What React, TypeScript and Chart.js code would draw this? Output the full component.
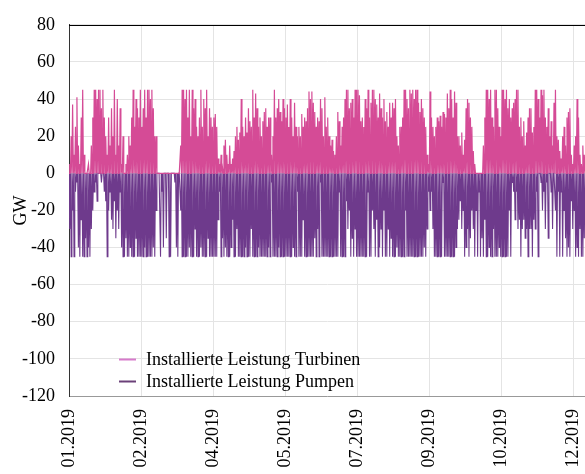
import React, { useEffect, useRef } from 'react';
import { Chart, registerables } from 'chart.js';

Chart.register(...registerables);

// x-axis: days since 01.01.2019, ticks every 50 days
const xTickLabels = ['01.2019', '02.2019', '04.2019', '05.2019', '07.2019', '09.2019', '10.2019', '12.2019'];
const xTickStepDays = 50;
const xMaxDays = 358;

const yMin = -120;
const yMax = 80;
const yStep = 20;
const yTitle = 'GW';

const seriesLabels = ['Installierte Leistung Turbinen', 'Installierte Leistung Pumpen'];
const seriesColors = ['#d54b96', '#6e3a8c'];
const legendColors = ['#d77acb', '#6b4079'];

// daily peak generation of turbines (GW), day 0 = 01.01.2019
const turbinenDaily = [
  5, 20, 37, 10, 25, 41, 15, 5, 30, 45,
  10, 0, 0, 5, 0, 15, 30, 45, 45, 40,
  45, 45, 35, 45, 30, 20, 10, 30, 15, 35,
  20, 45, 10, 40, 15, 35, 5, 20, 0, 5,
  10, 20, 15, 30, 45, 25, 40, 35, 30, 45,
  25, 35, 45, 30, 45, 45, 40, 45, 35, 20,
  20, 0, 0, 0, 0, 0, 0, 0, 0, 0,
  0, 0, 0, 0, 0, 0, 0, 15, 45, 45,
  40, 45, 30, 45, 20, 45, 35, 40, 25, 20,
  30, 45, 25, 40, 35, 45, 20, 35, 30, 25,
  30, 32, 25, 8, 5, 10, 3, 15, 18, 10,
  5, 15, 5, 8, 12, 20, 25, 18, 22, 40,
  25, 20, 30, 22, 35, 28, 25, 45, 30, 43,
  35, 25, 30, 20, 28, 33, 35, 25, 30, 30,
  10, 20, 45, 30, 35, 40, 33, 28, 40, 35,
  30, 37, 25, 40, 30, 20, 38, 25, 20, 25,
  20, 32, 25, 30, 28, 35, 44, 40, 44, 38,
  33, 25, 30, 28, 40, 35, 20, 41, 25, 30,
  20, 15, 18, 12, 10, 20, 33, 28, 15, 25,
  30, 40, 45, 45, 35, 38, 40, 30, 45, 45,
  45, 42, 28, 30, 25, 40, 35, 45, 30, 38,
  45, 45, 40, 37, 30, 43, 35, 30, 40, 28,
  33, 25, 38, 30, 38, 35, 40, 20, 15, 25,
  25, 30, 45, 45, 40, 35, 45, 43, 45, 40,
  45, 45, 38, 33, 40, 35, 30, 25, 10, 5,
  44, 30, 25, 20, 25, 30, 28, 31, 25, 33,
  32, 30, 43, 35, 45, 40, 30, 44, 38, 20,
  20, 15, 22, 10, 18, 35, 40, 38, 30, 25,
  12, 5, 0, 0, 0, 0, 0, 15, 30, 45,
  45, 40, 45, 30, 25, 45, 45, 35, 25, 20,
  45, 45, 40, 45, 35, 40, 30, 35, 38, 40,
  45, 45, 25, 30, 20, 28, 15, 22, 30, 35,
  35, 22, 25, 45, 45, 40, 30, 45, 42, 45,
  30, 25, 35, 20, 28, 15, 38, 45, 20, 18,
  12, 8, 20, 25, 15, 30, 33, 35, 10, 5,
  15, 20, 40, 30, 10, 5, 15, 10, 5,
];

// daily peak pumping load (GW, negative)
const pumpenDaily = [
  -30, -45, -20, -45, -10, -5, -40, -45, -25, -45,
  -45, -35, -45, -40, -45, -30, -20, -10, -5, -15,
  0, 0, -5, 0, -10, -15, -45, -20, -10, -25,
  -30, -15, -35, -20, -30, -10, -40, -45, -45, -35,
  -45, -45, -40, -45, -45, -45, -35, -45, -45, -45,
  -45, -45, -40, -45, -45, -45, -45, -45, -40, -45,
  -20, 0, 0, -45, -10, -40, 0, -35, 0, -45,
  -45, 0, 0, -5, -40, -45, 0, -20, -45, -45,
  -45, -45, -45, -40, -45, -45, -45, -30, -45, -45,
  -45, -40, -45, -45, -45, -45, -35, -45, -45, -45,
  -45, -45, -45, -25, -10, -45, -35, -45, -40, -45,
  -45, -45, -40, -25, -45, -45, -30, -45, -45, -45,
  -45, -45, -40, -45, -45, -45, -30, -45, -45, -45,
  -45, -40, -45, -45, -45, -45, -45, -45, -40, -45,
  -5, -45, -45, -45, -45, -40, -45, -45, -45, -45,
  -45, -45, -45, -45, -45, -40, -45, -45, -10, -45,
  -45, -45, -25, -45, -45, -45, -45, -45, -45, -45,
  -35, -45, -30, -45, -5, -45, -45, -45, -45, -45,
  -45, -45, -45, -45, -45, -45, -45, -10, -45, -45,
  -45, -45, -15, -30, -20, -45, -35, -45, -30, -45,
  -45, -45, -45, -45, -45, -45, -45, -10, -45, -45,
  -20, -30, -45, -25, -45, -40, -30, -45, -20, -45,
  -45, -30, -45, -35, -45, -45, -45, -40, -45, -45,
  -45, -45, -45, -20, -45, -45, -45, -45, -45, -45,
  -45, -45, -45, -45, -45, -45, -40, -45, -30, -10,
  -20, -10, -30, -45, -45, -45, -45, -45, -45, -5,
  -45, -45, -45, -45, -45, -45, -45, -45, -40, -30,
  -25, -15, -30, -20, -45, -40, -30, -45, -35, -20,
  -30, -45, -20, -45, -10, -45, -35, -45, -25, -45,
  -45, -40, -45, -45, -30, -45, -45, -45, -40, -45,
  -45, -45, -45, -45, -45, -20, -45, -5, -10, -25,
  -10, -30, -25, -45, -30, -25, -35, -30, -45, -30,
  -30, -45, -25, -30, -10, -45, 0, -5, -20, -10,
  -30, -5, -35, 0, -10, -30, 0, -20, -45, -10,
  -45, -10, -45, -20, -35, -45, -40, -45, -15, -30,
  -20, -45, -40, -45, -30, -45, -45, -35, -45,
];

// each day: idle (0) then daily peak
function dailyCycle(daily: number[]) {
  const pts: { x: number; y: number }[] = [];
  daily.forEach((v, i) => {
    pts.push({ x: i, y: 0 });
    pts.push({ x: i + 0.5, y: v });
  });
  return pts;
}

const frameAndLegend = {
  id: 'frameAndLegend',
  afterDraw(chart: any) {
    const { ctx, chartArea } = chart;
    const ys = chart.scales.y;
    ctx.save();
    ctx.strokeStyle = '#000';
    ctx.lineWidth = 1;
    ctx.beginPath();
    ctx.moveTo(chartArea.left, Math.round(chartArea.top) + 0.5);
    ctx.lineTo(chartArea.right, Math.round(chartArea.top) + 0.5);
    ctx.stroke();

    ctx.font = '18px "Liberation Serif", "Times New Roman", serif';
    ctx.textBaseline = 'middle';
    ctx.textAlign = 'left';
    const y0 = ys.getPixelForValue(-100);
    seriesLabels.forEach((lab, i) => {
      const y = Math.round(y0 + i * 22) + 0.5;
      ctx.strokeStyle = legendColors[i];
      ctx.lineWidth = 2;
      ctx.beginPath();
      ctx.moveTo(chartArea.left + 50, y);
      ctx.lineTo(chartArea.left + 67, y);
      ctx.stroke();
      ctx.fillStyle = '#000';
      ctx.fillText(lab, chartArea.left + 77, y + 1);
    });
    ctx.restore();
  },
};

export default function App() {
  const ref = useRef<HTMLCanvasElement | null>(null);

  useEffect(() => {
    document.body.style.margin = '0';
    document.body.style.overflow = 'hidden';
    if (!ref.current) return;
    const font = { family: '"Liberation Serif", "Times New Roman", serif', size: 18 };
    const chart = new Chart(ref.current, {
      type: 'line',
      data: {
        datasets: [
          {
            label: seriesLabels[0],
            data: dailyCycle(turbinenDaily),
            borderColor: seriesColors[0],
            backgroundColor: seriesColors[0],
            borderWidth: 1.2,
            pointRadius: 0,
            tension: 0,
            fill: false,
            order: 0,
          },
          {
            label: seriesLabels[1],
            data: dailyCycle(pumpenDaily),
            borderColor: seriesColors[1],
            backgroundColor: seriesColors[1],
            borderWidth: 1.1,
            pointRadius: 0,
            tension: 0,
            fill: false,
            order: 1,
          },
        ],
      },
      options: {
        animation: false,
        responsive: false,
        maintainAspectRatio: false,
        layout: { padding: { top: 23, right: 0, left: 0, bottom: 0 } },
        plugins: { legend: { display: false }, tooltip: { enabled: false } },
        scales: {
          x: {
            type: 'linear',
            min: 0,
            max: xMaxDays,
            grid: { color: '#e4e4e4', drawTicks: false },
            border: { color: '#999', width: 1 },
            ticks: {
              stepSize: xTickStepDays,
              includeBounds: false,
              autoSkip: false,
              maxRotation: 90,
              minRotation: 90,
              padding: 13,
              color: '#000',
              font,
              callback: (v: any) => xTickLabels[Math.round(Number(v) / xTickStepDays)] ?? '',
            },
            afterFit: (s: any) => {
              s.height = 78;
              s.paddingRight = 0;
              s.paddingLeft = 0;
            },
          },
          y: {
            min: yMin,
            max: yMax,
            grid: { color: '#e4e4e4', drawTicks: false },
            border: { color: '#333', width: 1 },
            ticks: { stepSize: yStep, padding: 14, color: '#000', font },
            title: { display: true, text: yTitle, color: '#000', font, padding: { top: 10, bottom: 0 } },
            afterFit: (s: any) => {
              s.width = 69;
            },
          },
        },
      },
      plugins: [frameAndLegend],
    });
    return () => chart.destroy();
  }, []);

  return (
    <div style={{ width: 585, height: 474 }}>
      <canvas ref={ref} width={585} height={474} style={{ display: 'block', width: 585, height: 474 }} />
    </div>
  );
}
